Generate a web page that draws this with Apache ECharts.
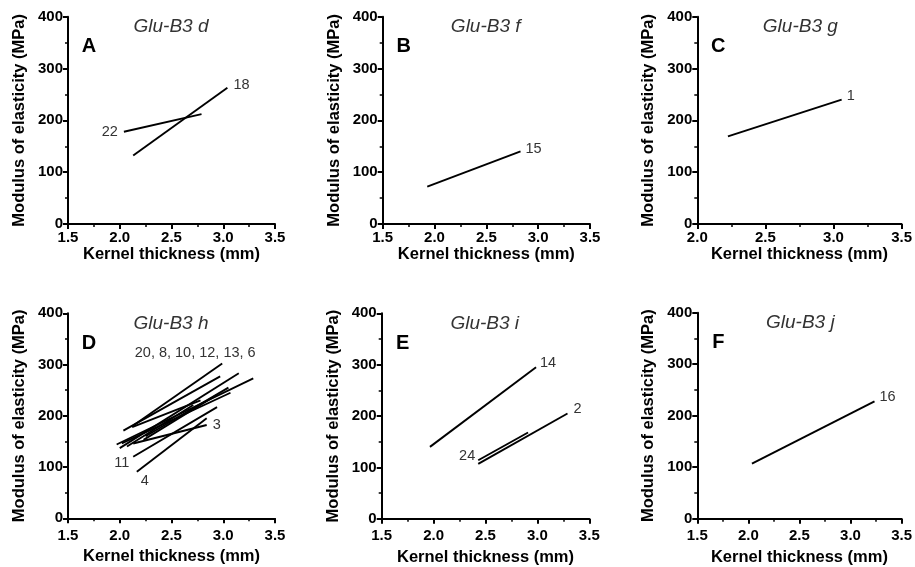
<!DOCTYPE html>
<html>
<head>
<meta charset="utf-8">
<script src="https://cdn.jsdelivr.net/npm/echarts@6/dist/echarts.min.js"></script>
<style>
  html, body { margin:0; padding:0; background:#fff; }
  #chart { width:915px; height:567px; }
</style>
</head>
<body>
<div id="chart"></div>
<script>
// ---------- data ----------
const panelLetters = ['A', 'B', 'C', 'D', 'E', 'F'];
const alleleNames = ['Glu-B3 d', 'Glu-B3 f', 'Glu-B3 g', 'Glu-B3 h', 'Glu-B3 i', 'Glu-B3 j'];
const xMinByPanel = [1.5, 1.5, 2.0, 1.5, 1.5, 1.5];
const xMax = 3.5;
const yMin = 0, yMax = 400;
const xLabel = 'Kernel thickness (mm)';
const yLabel = 'Modulus of elasticity (MPa)';

// each segment: [x1, y1, x2, y2]  (kernel thickness mm, MoE MPa)
const linesA = [[2.04, 178, 2.79, 212], [2.13, 132, 3.04, 263]];
const cultivarsA = ['22', '18'];

const linesB = [[1.93, 72, 2.83, 140]];
const cultivarsB = ['15'];

const linesC = [[2.225, 169, 3.06, 240]];
const cultivarsC = ['1'];

const linesD = [
  [2.117, 179, 2.99, 302],
  [2.035, 171, 2.97, 277],
  [1.97, 144, 3.29, 273],
  [2.0, 137, 3.15, 283],
  [2.13, 120, 2.94, 217],
  [2.165, 91, 2.84, 195],
  [2.13, 146, 2.84, 182],
  [2.02, 146, 3.07, 245],
  [2.12, 178, 2.78, 230],
  [2.23, 153, 2.94, 241],
  [2.07, 140, 2.71, 221],
  [2.25, 160, 3.05, 255]
];
const cultivarsD = ['20, 8, 10, 12, 13, 6', '', '', '', '11', '4', '3', '', '', '', '', ''];

const linesE = [[1.965, 140, 2.987, 295], [2.43, 107, 3.29, 205], [2.43, 114, 2.91, 168]];
const cultivarsE = ['14', '2', '24'];

const linesF = [[2.035, 107, 3.235, 228]];
const cultivarsF = ['16'];

// ---------- layout / style ----------
const FONT = 'Liberation Sans, Arial, sans-serif';
const grids = [
  { left: 68,    top: 16.7,  width: 207,   height: 207.3 },
  { left: 382.7, top: 16.7,  width: 207.3, height: 207.3 },
  { left: 697.3, top: 16.7,  width: 207,   height: 207.3 },
  { left: 68,    top: 313.3, width: 207,   height: 205 },
  { left: 381.7, top: 313.3, width: 207.6, height: 205.5 },
  { left: 697.3, top: 312.7, width: 206.7, height: 206 }
];
const xLabelMargin = [6, 6, 6, 10, 10, 10];
const xNameGap = [17, 17, 17, 30, 30, 30];

// label placement per panel: for each segment, which end and where
const labelPlacement = {
  A: [{ end: 0, pos: 'left', off: [-2, 0] }, { end: 1, pos: 'right', off: [2, -3] }],
  B: [{ end: 1, pos: 'right', off: [1, -2] }],
  C: [{ end: 1, pos: 'right', off: [1, -4] }],
  D: [
    { end: 1, pos: 'top', off: [-27, 1] }, null, null, null,
    { end: 0, pos: 'left', off: [0, 6] },
    { end: 0, pos: 'bottom', off: [8, -2] },
    { end: 1, pos: 'right', off: [2, 0] },
    null, null, null, null, null
  ],
  E: [{ end: 1, pos: 'right', off: [0, -4] }, { end: 1, pos: 'right', off: [2, -4] }, { end: 0, pos: 'left', off: [1, -4] }],
  F: [{ end: 1, pos: 'right', off: [1, -4] }]
};

const allLines = [linesA, linesB, linesC, linesD, linesE, linesF];
const allCultivars = [cultivarsA, cultivarsB, cultivarsC, cultivarsD, cultivarsE, cultivarsF];

const option = {
  backgroundColor: '#ffffff',
  animation: false,
  title: [],
  grid: [],
  xAxis: [],
  yAxis: [],
  series: []
};

for (let p = 0; p < 6; p++) {
  const g = grids[p];
  option.grid.push({ left: g.left, top: g.top, width: g.width, height: g.height, containLabel: false });
  option.title.push({
    text: alleleNames[p],
    left: g.left + 103, top: g.top + 1, textAlign: 'center', padding: 0,
    textStyle: { fontFamily: FONT, fontSize: 19, fontStyle: 'italic', fontWeight: 'normal', color: '#333' }
  });
  option.title.push({
    text: panelLetters[p],
    left: g.left + 21, top: g.top + 20, textAlign: 'center', padding: 0,
    textStyle: { fontFamily: FONT, fontSize: 20, fontWeight: 'bold', color: '#000' }
  });
  option.xAxis.push({
    type: 'value', gridIndex: p, min: xMinByPanel[p], max: xMax, interval: 0.5,
    name: xLabel, nameLocation: 'middle', nameGap: xNameGap[p],
    nameTextStyle: { fontFamily: FONT, fontSize: 16.5, fontWeight: 'bold', color: '#000' },
    axisLine: { show: true, onZero: false, lineStyle: { color: '#000', width: 2 } },
    axisTick: { show: true, length: 5, lineStyle: { color: '#000', width: 2 } },
    minorTick: { show: true, splitNumber: 2, length: 3, lineStyle: { color: '#000', width: 1.5 } },
    splitLine: { show: false },
    axisLabel: { margin: xLabelMargin[p], fontFamily: FONT, fontSize: 15, fontWeight: 'bold', color: '#000',
      formatter: v => v.toFixed(1) }
  });
  option.yAxis.push({
    type: 'value', gridIndex: p, min: yMin, max: yMax, interval: 100,
    name: yLabel, nameLocation: 'middle', nameGap: 40, nameRotate: 90,
    nameTextStyle: { fontFamily: FONT, fontSize: 16.5, fontWeight: 'bold', color: '#000' },
    axisLine: { show: true, onZero: false, lineStyle: { color: '#000', width: 2 } },
    axisTick: { show: true, length: 5, lineStyle: { color: '#000', width: 2 } },
    minorTick: { show: true, splitNumber: 2, length: 3, lineStyle: { color: '#000', width: 1.5 } },
    splitLine: { show: false },
    axisLabel: { margin: 5, fontFamily: FONT, fontSize: 15, fontWeight: 'bold', color: '#000' }
  });

  const segs = allLines[p];
  const names = allCultivars[p];
  const place = labelPlacement[panelLetters[p]];
  segs.forEach((s, i) => {
    const pts = [[s[0], s[1]], [s[2], s[3]]];
    const pl = place[i];
    const data = pts.map((pt, k) => {
      const item = { value: pt };
      if (pl && pl.end === k && names[i]) {
        item.label = {
          show: true, position: pl.pos, offset: pl.off, distance: 4,
          formatter: names[i],
          fontFamily: FONT, fontSize: 14.5, color: '#333'
        };
      }
      return item;
    });
    option.series.push({
      type: 'line', xAxisIndex: p, yAxisIndex: p,
      data: data, symbol: 'circle', symbolSize: 0, showSymbol: true,
      itemStyle: { color: '#000' },
      lineStyle: { color: '#000', width: 1.9 },
      label: { show: false },
      emphasis: { disabled: true },
      silent: true
    });
  });
}

const chart = echarts.init(document.getElementById('chart'), null, { renderer: 'canvas' });
chart.setOption(option);
</script>
</body>
</html>
